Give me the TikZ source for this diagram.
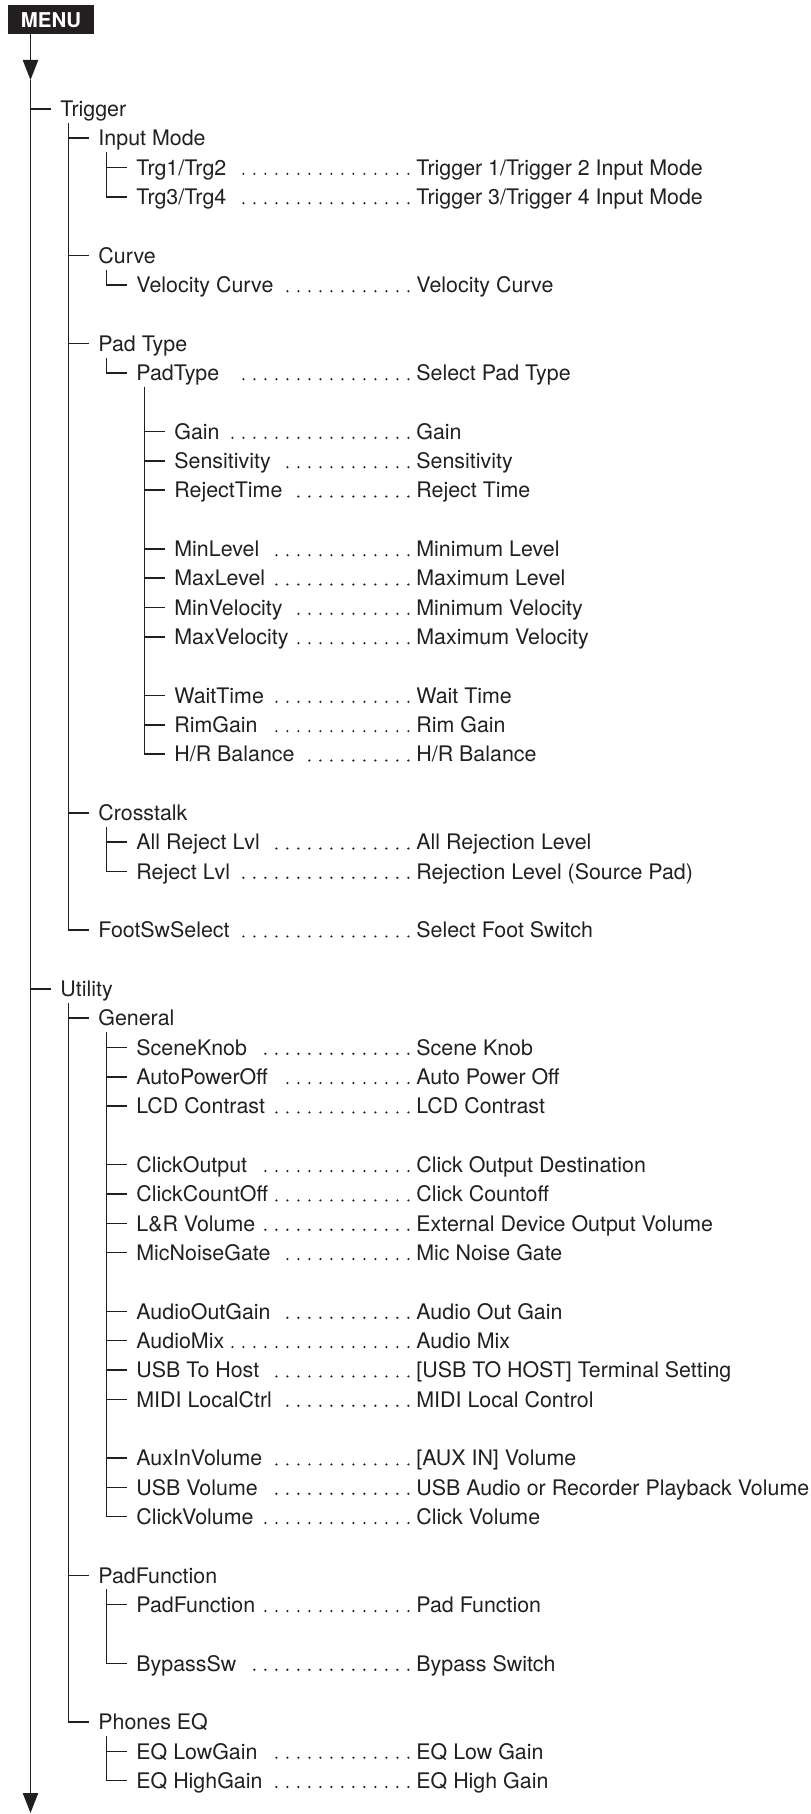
\documentclass[tikz,border=0pt]{standalone}
\usepackage{fontspec}
\setmainfont{TeX Gyre Heros}
\usetikzlibrary{arrows.meta}
\definecolor{ink}{RGB}{35,31,32}

\newcommand{\rowy}[1]{116.5+29.33*#1}
\newcommand{\group}[4]{\node[itemtext] (#1) at (#2,{\rowy{#3}}) {#4};}
% #6 = number of leader dots
\newcommand{\param}[6]{\node[itemtext] (#1) at (#2,{\rowy{#3}}) {#4};
        \node[itemtext] (#1d) at (416,{\rowy{#3}}) {#5};
        \draw[dotrow] ([shift={(-3.8pt,0.65pt)}]#1d.base west) -- ++({-(#6-1)*5.5pt-0.3pt},0pt);
    }
\newcommand{\branch}[2]{\draw[treeline] ([shift={(4.25pt,-3pt)}]#1.south west) |- ([xshift=-4.5pt]#2.west);}

\begin{document}
\begin{tikzpicture}
                [x=0.5pt, y=-0.5pt,
                itemtext/.style={anchor=base west, inner sep=0pt, text height=7.7pt, text depth=0pt,
                    font=\fontsize{10.7pt}{12pt}\selectfont, text=ink},
                menubox/.style={fill=ink, text=white, inner sep=0pt, minimum width=42.8pt, minimum height=14.6pt,
                    font=\fontsize{10.2pt}{12pt}\selectfont\bfseries},
                treeline/.style={draw=ink, line width=0.8pt},
                spine/.style={draw=ink, line width=0.85pt, -{Triangle[length=10pt, width=7.6pt]}},
                dotrow/.style={draw=ink, line width=1.2pt, line cap=round, dash pattern=on 0pt off 5.5pt},
                ]
                \useasboundingbox (0,0) rectangle (810,1814);
                \node[menubox] (menu) at (51,19.7) {MENU};
                \coordinate (spinetop) at (30.5,34.3);
                \coordinate (spinearr) at (30.5,80);
                \coordinate (spinebot) at (30.5,1813);
                \draw[spine] (spinetop) -- (spinearr);
                \draw[spine] (spinearr) -- (spinebot);

                % Trigger
                \group{trigger}{60}{0}{Trigger}
                \group{inputmode}{98}{1}{Input Mode}
                \param{trg12}{136}{2}{Trg1/Trg2}{Trigger 1/Trigger 2 Input Mode}{16}
                \param{trg34}{136}{3}{Trg3/Trg4}{Trigger 3/Trigger 4 Input Mode}{16}
                \group{curve}{98}{5}{Curve}
                \param{velcurve}{136}{6}{Velocity Curve}{Velocity Curve}{12}
                \group{padtypes}{98}{8}{Pad Type}
                \param{padtype}{136}{9}{PadType}{Select Pad Type}{16}
                \param{gain}{174}{11}{Gain}{Gain}{17}
                \param{sens}{174}{12}{Sensitivity}{Sensitivity}{12}
                \param{rejtime}{174}{13}{RejectTime}{Reject Time}{11}
                \param{minlvl}{174}{15}{MinLevel}{Minimum Level}{13}
                \param{maxlvl}{174}{16}{MaxLevel}{Maximum Level}{13}
                \param{minvel}{174}{17}{MinVelocity}{Minimum Velocity}{11}
                \param{maxvel}{174}{18}{MaxVelocity}{Maximum Velocity}{11}
                \param{waittime}{174}{20}{WaitTime}{Wait Time}{13}
                \param{rimgain}{174}{21}{RimGain}{Rim Gain}{13}
                \param{hrbal}{174}{22}{H/R Balance}{H/R Balance}{10}
                \group{crosstalk}{98}{24}{Crosstalk}
                \param{allrej}{136}{25}{All Reject Lvl}{All Rejection Level}{13}
                \param{rejlvl}{136}{26}{Reject Lvl}{Rejection Level (Source Pad)}{16}
                \param{footsw}{98}{28}{FootSwSelect}{Select Foot Switch}{16}

                % Utility
                \group{utility}{60}{30}{Utility}
                \group{general}{98}{31}{General}
                \param{sceneknob}{136}{32}{SceneKnob}{Scene Knob}{14}
                \param{autopower}{136}{33}{AutoPowerOff}{Auto Power Off}{12}
                \param{lcd}{136}{34}{LCD Contrast}{LCD Contrast}{13}
                \param{clickout}{136}{36}{ClickOutput}{Click Output Destination}{14}
                \param{clickcount}{136}{37}{ClickCountOff}{Click Countoff}{13}
                \param{lrvol}{136}{38}{L\&R Volume}{External Device Output Volume}{14}
                \param{micgate}{136}{39}{MicNoiseGate}{Mic Noise Gate}{12}
                \param{audioout}{136}{41}{AudioOutGain}{Audio Out Gain}{12}
                \param{audiomix}{136}{42}{AudioMix}{Audio Mix}{17}
                \param{usbhost}{136}{43}{USB To Host}{[USB TO HOST] Terminal Setting}{13}
                \param{midilocal}{136}{44}{MIDI LocalCtrl}{MIDI Local Control}{12}
                \param{auxin}{136}{46}{AuxInVolume}{[AUX IN] Volume}{13}
                \param{usbvol}{136}{47}{USB Volume}{USB Audio or Recorder Playback Volume}{13}
                \param{clickvol}{136}{48}{ClickVolume}{Click Volume}{14}
                \group{padfuncs}{98}{50}{PadFunction}
                \param{padfunc}{136}{51}{PadFunction}{Pad Function}{14}
                \param{bypass}{136}{53}{BypassSw}{Bypass Switch}{15}
                \group{phoneseq}{98}{55}{Phones EQ}
                \param{eqlow}{136}{56}{EQ LowGain}{EQ Low Gain}{13}
                \param{eqhigh}{136}{57}{EQ HighGain}{EQ High Gain}{13}

                % tree lines
                \foreach \c in {trigger,utility}
                    \draw[treeline] (\c.west -| spinetop) -- ([xshift=-4.5pt]\c.west);
                \foreach \c in {inputmode,curve,padtypes,crosstalk,footsw} {\branch{trigger}{\c}}
                \foreach \c in {trg12,trg34} {\branch{inputmode}{\c}}
                \branch{curve}{velcurve}
                \branch{padtypes}{padtype}
                \foreach \c in {gain,sens,rejtime,minlvl,maxlvl,minvel,maxvel,waittime,rimgain,hrbal} {\branch{padtype}{\c}}
                \foreach \c in {allrej,rejlvl} {\branch{crosstalk}{\c}}
                \foreach \c in {general,padfuncs,phoneseq} {\branch{utility}{\c}}
                \foreach \c in {sceneknob,autopower,lcd,clickout,clickcount,lrvol,micgate,audioout,audiomix,usbhost,midilocal,auxin,usbvol,clickvol} {\branch{general}{\c}}
                \foreach \c in {padfunc,bypass} {\branch{padfuncs}{\c}}
                \foreach \c in {eqlow,eqhigh} {\branch{phoneseq}{\c}}
            \end{tikzpicture}
\end{document}
